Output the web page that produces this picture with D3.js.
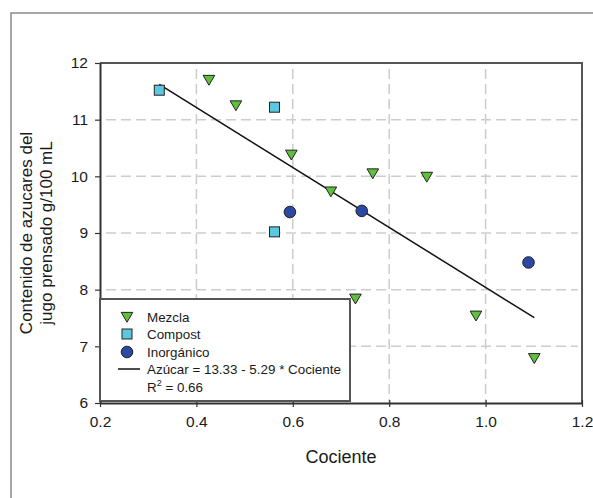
<!DOCTYPE html>
<html>
<head>
<meta charset="utf-8">
<script src="https://cdn.jsdelivr.net/npm/d3@7"></script>
<style>
  html, body { margin: 0; padding: 0; background: #fff; }
  svg { display: block; font-family: "Liberation Sans", Arial, sans-serif; }
</style>
</head>
<body>
<svg id="chart" width="593" height="498"></svg>
<script>
// ---- Data ----
const mezclaX = [0.426, 0.482, 0.597, 0.679, 0.766, 0.878, 0.730, 0.980, 1.101];
const mezclaY = [11.70, 11.25, 10.38, 9.73, 10.05, 9.99, 7.84, 7.54, 6.79];
const compostX = [0.323, 0.562, 0.562];
const compostY = [11.52, 11.22, 9.02];
const inorgX = [0.594, 0.743, 1.089];
const inorgY = [9.37, 9.39, 8.48];
const fitIntercept = 13.33;
const fitSlope = -5.29;
const fitRange = [0.323, 1.101];
const xTicks = [0.2, 0.4, 0.6, 0.8, 1.0, 1.2];
const yTicks = [6, 7, 8, 9, 10, 11, 12];
const legendLabels = ["Mezcla", "Compost", "Inorgánico", "Azúcar = 13.33 - 5.29 * Cociente"];
const r2Label = "0.66";

const svg = d3.select("#chart");
const pLeft = 100, pRight = 582, pTop = 63, pBottom = 403;

const x = d3.scaleLinear().domain([0.2, 1.2]).range([pLeft, pRight]);
const y = d3.scaleLinear().domain([6, 12]).range([pBottom, pTop]);

// outer frame (extends beyond the canvas on the right and bottom)
svg.append("rect").attr("x", 11).attr("y", 13).attr("width", 700).attr("height", 700)
  .attr("fill", "none").attr("stroke", "#8a8a8a").attr("stroke-width", 1.5);

// gridlines
const grid = svg.append("g").attr("stroke", "#cfcbcb").attr("stroke-width", 1.5)
  .attr("stroke-dasharray", "10,5");
grid.selectAll("line.v").data(xTicks.slice(1, -1)).join("line").attr("class", "v")
  .attr("x1", d => x(d)).attr("x2", d => x(d)).attr("y1", pTop + 6).attr("y2", pBottom);
grid.selectAll("line.h").data(yTicks.slice(1, -1)).join("line").attr("class", "h")
  .attr("y1", d => y(d)).attr("y2", d => y(d)).attr("x1", pLeft + 6).attr("x2", pRight - 4);

// top and right frame
svg.append("path")
  .attr("d", `M${pLeft},${pTop}H${pRight}V${pBottom}`)
  .attr("fill", "none").attr("stroke", "#555").attr("stroke-width", 2);

// axes
const xAxis = d3.axisBottom(x).tickValues(xTicks).tickFormat(d3.format(".1f")).tickSizeInner(4).tickSizeOuter(0).tickPadding(9);
const yAxis = d3.axisLeft(y).tickValues(yTicks).tickFormat(d3.format("d")).tickSizeInner(5).tickSizeOuter(0).tickPadding(7);

const gx = svg.append("g").attr("transform", `translate(0,${pBottom})`).call(xAxis);
const gy = svg.append("g").attr("transform", `translate(${pLeft},0)`).call(yAxis);
[gx, gy].forEach(g => {
  g.select(".domain").attr("stroke", "#333").attr("stroke-width", 2);
  g.selectAll(".tick line").attr("stroke", "#333").attr("stroke-width", 1.2);
  g.selectAll(".tick text").attr("font-size", 15.5).attr("fill", "#1a1a1a")
    .attr("font-family", "Liberation Sans, Arial, sans-serif");
});
gx.selectAll(".tick line").attr("y1", -3);

// axis titles
svg.append("text").attr("x", (pLeft + pRight) / 2).attr("y", 463)
  .attr("text-anchor", "middle").attr("font-size", 18).attr("fill", "#1a1a1a").text("Cociente");
const yt = svg.append("text").attr("transform", `translate(32,${(pTop + pBottom) / 2}) rotate(-90)`)
  .attr("text-anchor", "middle").attr("font-size", 17).attr("fill", "#1a1a1a");
yt.append("tspan").attr("x", 0).attr("y", 0).text("Contenido de azucares del");
yt.append("tspan").attr("x", 0).attr("y", 20).text("jugo prensado g/100 mL");

// regression line
svg.append("line")
  .attr("x1", x(fitRange[0])).attr("y1", y(fitIntercept + fitSlope * fitRange[0]))
  .attr("x2", x(fitRange[1])).attr("y2", y(fitIntercept + fitSlope * fitRange[1]))
  .attr("stroke", "#111").attr("stroke-width", 1.5);

// symbols
const triPath = (cx, cy, s) => `M${cx - s},${cy - s * 0.8}L${cx + s},${cy - s * 0.8}L${cx},${cy + s * 0.9}Z`;
const green = "#5ec03c", cyan = "#5cc8df", blue = "#2b48a3", stroke = "#222";

const mezcla = mezclaX.map((v, i) => [v, mezclaY[i]]);
const compost = compostX.map((v, i) => [v, compostY[i]]);
const inorg = inorgX.map((v, i) => [v, inorgY[i]]);

svg.append("g").selectAll("path").data(mezcla).join("path")
  .attr("d", d => triPath(x(d[0]), y(d[1]), 5.8))
  .attr("fill", green).attr("stroke", stroke).attr("stroke-width", 1);
svg.append("g").selectAll("rect").data(compost).join("rect")
  .attr("x", d => x(d[0]) - 5).attr("y", d => y(d[1]) - 5).attr("width", 10).attr("height", 10)
  .attr("fill", cyan).attr("stroke", stroke).attr("stroke-width", 1);
svg.append("g").selectAll("circle").data(inorg).join("circle")
  .attr("cx", d => x(d[0])).attr("cy", d => y(d[1])).attr("r", 5.8)
  .attr("fill", blue).attr("stroke", stroke).attr("stroke-width", 1);

// legend
const lg = svg.append("g");
lg.append("rect").attr("x", 100).attr("y", 299).attr("width", 250).attr("height", 102)
  .attr("fill", "#fff").attr("stroke", "#555").attr("stroke-width", 2);
const rowY = [317, 334, 352, 369];
const symX = 127, txtX = 147;
lg.append("path").attr("d", triPath(symX, rowY[0], 5.8)).attr("fill", green).attr("stroke", stroke);
lg.append("rect").attr("x", symX - 5).attr("y", rowY[1] - 5).attr("width", 10).attr("height", 10)
  .attr("fill", cyan).attr("stroke", stroke);
lg.append("circle").attr("cx", symX).attr("cy", rowY[2]).attr("r", 5.8).attr("fill", blue).attr("stroke", stroke);
lg.append("line").attr("x1", 118).attr("x2", 140).attr("y1", rowY[3]).attr("y2", rowY[3])
  .attr("stroke", "#111").attr("stroke-width", 1.5);
lg.selectAll("text.lab").data(legendLabels).join("text").attr("class", "lab")
  .attr("x", txtX).attr("y", (d, i) => rowY[i] + 5)
  .attr("font-size", 13.4).attr("fill", "#1a1a1a").text(d => d);
const r2 = lg.append("text").attr("x", txtX).attr("y", 392).attr("font-size", 13.4).attr("fill", "#1a1a1a");
r2.append("tspan").text("R");
r2.append("tspan").attr("font-size", 9).attr("dy", -6).text("2");
r2.append("tspan").attr("dy", 6).text(" = " + r2Label);
</script>
</body>
</html>
